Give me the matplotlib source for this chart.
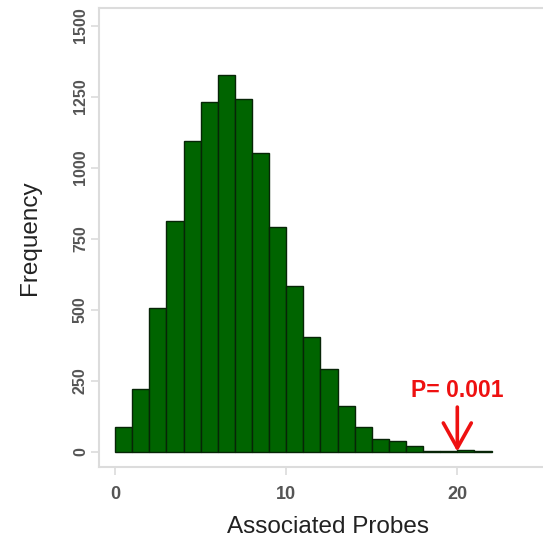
import numpy as np
import matplotlib
matplotlib.use('Agg')
from matplotlib import pyplot as plt

plt.rcParams['font.family'] = ['Liberation Sans', 'DejaVu Sans']

# permutation counts per unit bin of associated probes
bin_edges = list(range(0, 23))
counts = [88, 220, 506, 811, 1093, 1232, 1326, 1241, 1051, 790, 585, 403,
          290, 161, 88, 46, 37, 20, 1, 1, 6, 4]
observed = 20
p_label = 'P= 0.001'
y_ticks = [0, 250, 500, 750, 1000, 1250, 1500]
x_ticks = [0, 10, 20]

W, H = 543, 544
fig = plt.figure(figsize=(W / 100, H / 100), dpi=100)
ax = fig.add_axes([99 / W, (H - 467) / H, (548 - 99) / W, (467 - 8) / H])

ax.hist(bin_edges[:-1], bins=bin_edges, weights=counts,
        color='#006400', edgecolor='#072507', linewidth=1.0)

ax.set_xlim(-0.94, 25.3)
ax.set_ylim(-54, 1562)

frame_col = '#dcdcdc'
for s in ax.spines.values():
    s.set_color(frame_col)
    s.set_linewidth(1.5)

ax.set_yticks(y_ticks)
ax.set_xticks(x_ticks)
ax.tick_params(axis='both', color=frame_col, length=6, width=1.2,
               labelcolor='#555555')
ax.tick_params(axis='y', pad=2, labelsize=11.5)
ax.tick_params(axis='x', pad=8, labelsize=13)
for lab in ax.get_yticklabels():
    lab.set_rotation(90)
    lab.set_va('center')
    lab.set_fontweight('bold')
for lab in ax.get_xticklabels():
    lab.set_fontweight('bold')

ax.set_ylabel('Frequency', fontsize=17.5, color='#222222', va='center')
ax.yaxis.set_label_coords(-69 / 449, 0.5)
ax.set_xlabel('Associated Probes', fontsize=17.5, color='#222222', va='center')
ax.xaxis.set_label_coords((328 - 99) / 449, -60 / 459)

# arrow marking the observed value
ax.annotate('', xy=(observed, 0), xytext=(observed, 157),
            arrowprops=dict(arrowstyle='->, head_length=0.75, head_width=0.42',
                            color='#ee1111', lw=2.6,
                            mutation_scale=24, shrinkA=0, shrinkB=0))
ax.text(observed, 193, p_label, color='#ee1111', fontsize=16.5,
        fontweight='bold', ha='center', va='baseline')

fig.savefig('out.png', dpi=100)
